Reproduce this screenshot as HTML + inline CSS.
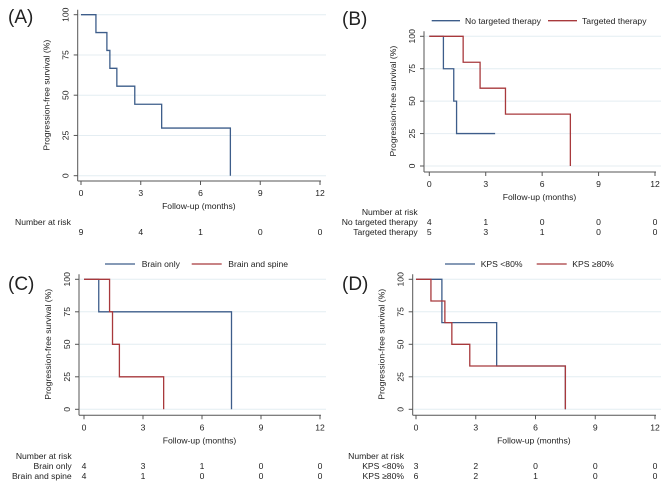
<!DOCTYPE html>
<html><head><meta charset="utf-8"><style>
body{margin:0;background:#fff;}
svg text{font-family:"Liberation Sans",sans-serif;fill:#222;}
</style></head><body>
<svg id="c" width="671" height="489" xmlns="http://www.w3.org/2000/svg"></svg>
<script>
const xTicks=[0,3,6,9,12];
const yTicks=[0,25,50,75,100];
// Panel A
const aTimes=[0,0.75,1.3,1.45,1.8,2.7,4.05,7.5];
const aSurv=[100,88.9,77.8,66.7,55.6,44.4,29.6,0];
const aRisk=[9,4,1,0,0];
// Panel B
const bNoTimes=[0,0.75,1.3,1.45,3.5];
const bNoSurv=[100,75,50,25,25];
const bTTimes=[0,1.8,2.7,4.05,7.5];
const bTSurv=[100,80,60,40,0];
const bRiskNo=[4,1,0,0,0];
const bRiskT=[5,3,1,0,0];
// Panel C
const cBTimes=[0,0.75,7.5];
const cBSurv=[100,75,0];
const cSTimes=[0,1.3,1.45,1.8,4.05];
const cSSurv=[100,75,50,25,0];
const cRiskB=[4,3,1,0,0];
const cRiskS=[4,1,0,0,0];
// Panel D
const dLTimes=[0,1.3,4.05,7.5];
const dLSurv=[100,66.7,33.3,0];
const dHTimes=[0,0.75,1.45,1.8,2.7,7.5];
const dHSurv=[100,83.3,66.7,50,33.3,0];
const dRiskL=[3,2,0,0,0];
const dRiskH=[6,2,1,0,0];

const BLUE='#3d5d8a',RED='#a8393c';
const FS=8.6;
const svg=document.getElementById('c');
const NS='http://www.w3.org/2000/svg';
function el(t,a,txt){const e=document.createElementNS(NS,t);for(const k in a)e.setAttribute(k,a[k]);if(txt!==undefined)e.textContent=txt;svg.appendChild(e);return e;}

function panel(p){
  const sx=v=>p.x0+(p.x12-p.x0)*v/12;
  const sy=v=>p.y0+(p.y100-p.y0)*v/100;
  let e=el('text',{x:p.lx,y:p.ly,'font-size':19});e.textContent=p.label;
  
  yTicks.forEach(t=>{
    e=el('line',{x1:p.ax+1,x2:p.x12+6,y1:sy(t),y2:sy(t),stroke:'#e4edf2','stroke-width':1});
    
    e=el('line',{x1:p.ax-4,x2:p.ax,y1:sy(t),y2:sy(t),stroke:'#555'});
    
    e=el('text',{x:p.ax-9,y:sy(t),'font-size':FS,'text-anchor':'middle',transform:`rotate(-90 ${p.ax-9} ${sy(t)})`},String(t));
    
  });
  e=el('line',{x1:p.ax,x2:p.ax,y1:p.y100-5,y2:p.axy,stroke:'#555'});
  
  e=el('line',{x1:p.ax,x2:p.x12+1,y1:p.axy,y2:p.axy,stroke:'#555'});
  
  xTicks.forEach(t=>{
    e=el('line',{x1:sx(t),x2:sx(t),y1:p.axy,y2:p.axy+4,stroke:'#555'});
    
    e=el('text',{x:sx(t),y:p.axy+15,'font-size':FS,'text-anchor':'middle'},String(t));
    
  });
  const mid=(p.ax+p.x12)/2;
  e=el('text',{x:mid,y:p.axy+28,'font-size':FS,'text-anchor':'middle'},'Follow-up (months)');
  
  const ym=(p.y0+p.y100)/2, yx=p.ax-28;
  e=el('text',{x:yx,y:ym,'font-size':FS,'text-anchor':'middle',transform:`rotate(-90 ${yx} ${ym})`},'Progression-free survival (%)');
  
  p.series.forEach(s=>{
    let d=`M${sx(s.t[0])},${sy(s.s[0])}`;
    for(let i=1;i<s.t.length;i++){d+=`H${sx(s.t[i])}V${sy(s.s[i])}`;}
    e=el('path',{d:d,fill:'none',stroke:s.c,'stroke-width':1.3});
    
  });
  p.legend.forEach(l=>{
    e=el('line',{x1:l.x1,x2:l.x2,y1:p.legy,y2:p.legy,stroke:l.c,'stroke-width':1.3});
    
    e=el('text',{x:l.tx,y:p.legy+3.2,'font-size':FS},l.text);
    
  });
  e=el('text',{x:p.nrx,y:p.nry,'font-size':FS,'text-anchor':p.nra},'Number at risk');
  
  p.rows.forEach((r,ri)=>{
    const y=p.nry+10+ri*10;
    if(r.label){e=el('text',{x:p.rlx,y:y,'font-size':FS,'text-anchor':'end'},r.label);
      }
    r.v.forEach((v,i)=>{
      e=el('text',{x:sx(xTicks[i]),y:y,'font-size':FS,'text-anchor':'middle'},String(v));
      
    });
  });
}

panel({label:'(A)',lx:8,ly:23,x0:81,x12:320,y0:175.7,y100:14.7,ax:77.7,axy:181,legy:-20,legend:[],
 series:[{t:aTimes,s:aSurv,c:BLUE,name:'km-curve-all'}],
 nrx:15,nry:225,nra:'start',rlx:0,rows:[{label:'',v:aRisk}]});
panel({label:'(B)',lx:342,ly:25,x0:429.3,x12:655,y0:166,y100:36.3,ax:424,axy:172,legy:20.7,
 legend:[{x1:431.7,x2:460,tx:465,text:'No targeted therapy',c:BLUE},{x1:548,x2:577,tx:582,text:'Targeted therapy',c:RED}],
 series:[{t:bNoTimes,s:bNoSurv,c:BLUE,name:'km-curve-no-targeted'},{t:bTTimes,s:bTSurv,c:RED,name:'km-curve-targeted'}],
 nrx:417.7,nry:215,nra:'end',rlx:417.7,rows:[{label:'No targeted therapy',v:bRiskNo},{label:'Targeted therapy',v:bRiskT}]});
panel({label:'(C)',lx:8,ly:290,x0:84,x12:320,y0:409.3,y100:279.3,ax:79,axy:415.3,legy:264,
 legend:[{x1:105,x2:135,tx:141.7,text:'Brain only',c:BLUE},{x1:191.7,x2:221.7,tx:228.3,text:'Brain and spine',c:RED}],
 series:[{t:cBTimes,s:cBSurv,c:BLUE,name:'km-curve-brain-only'},{t:cSTimes,s:cSSurv,c:RED,name:'km-curve-brain-spine'}],
 nrx:71.7,nry:459,nra:'end',rlx:71.7,rows:[{label:'Brain only',v:cRiskB},{label:'Brain and spine',v:cRiskS}]});
panel({label:'(D)',lx:342,ly:290,x0:416,x12:655,y0:409.3,y100:279.3,ax:412.7,axy:415.3,legy:264,
 legend:[{x1:445,x2:475,tx:480.7,text:'KPS <80%',c:BLUE},{x1:536.7,x2:566.7,tx:572.3,text:'KPS ≥80%',c:RED}],
 series:[{t:dLTimes,s:dLSurv,c:BLUE,name:'km-curve-kps-low'},{t:dHTimes,s:dHSurv,c:RED,name:'km-curve-kps-high'}],
 nrx:404,nry:459,nra:'end',rlx:404,rows:[{label:'KPS <80%',v:dRiskL},{label:'KPS ≥80%',v:dRiskH}]});
</script>
</body></html>
